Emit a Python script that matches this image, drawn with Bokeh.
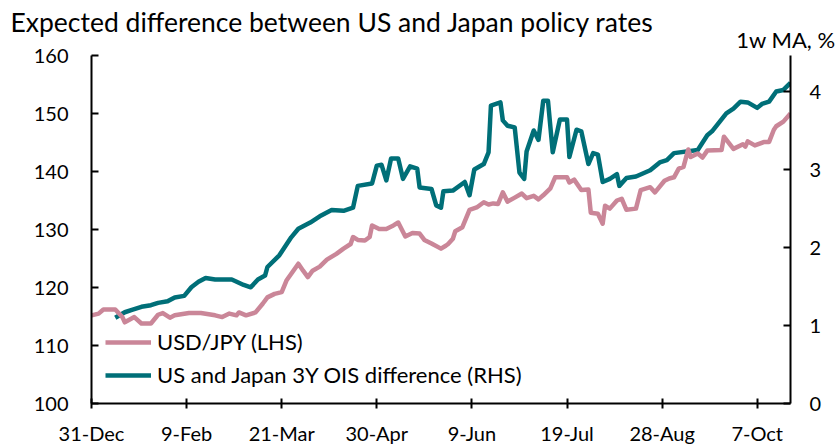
import pandas as pd
from bokeh.plotting import figure
from bokeh.models import (Range1d, LinearAxis, FixedTicker, CustomJSTickFormatter,
                          Legend, LegendItem, Title, ColumnDataSource)
from bokeh.embed import file_html
from bokeh.resources import INLINE

# ---------------- data ----------------
usdjpy_dates = [
    "2021-12-31", "2022-01-03", "2022-01-05", "2022-01-10", "2022-01-13", "2022-01-14",
    "2022-01-18", "2022-01-21", "2022-01-25", "2022-01-28", "2022-01-30", "2022-02-02",
    "2022-02-04", "2022-02-10", "2022-02-15", "2022-02-21", "2022-02-24", "2022-02-27",
    "2022-03-02", "2022-03-03", "2022-03-06", "2022-03-10", "2022-03-13", "2022-03-15",
    "2022-03-18", "2022-03-21", "2022-03-23", "2022-03-28", "2022-03-30", "2022-04-01",
    "2022-04-03", "2022-04-06", "2022-04-09", "2022-04-13", "2022-04-15", "2022-04-16",
    "2022-04-19", "2022-04-20", "2022-04-22", "2022-04-25", "2022-04-27", "2022-04-28",
    "2022-05-01", "2022-05-04", "2022-05-07", "2022-05-09", "2022-05-12", "2022-05-15",
    "2022-05-18", "2022-05-20", "2022-05-23", "2022-05-27", "2022-05-29", "2022-05-30",
    "2022-06-01", "2022-06-02", "2022-06-05", "2022-06-08", "2022-06-11", "2022-06-14",
    "2022-06-16", "2022-06-18", "2022-06-20", "2022-06-22", "2022-06-24", "2022-06-27",
    "2022-06-30", "2022-07-02", "2022-07-05", "2022-07-07", "2022-07-09", "2022-07-12",
    "2022-07-14", "2022-07-19", "2022-07-20", "2022-07-22", "2022-07-25", "2022-07-28",
    "2022-07-29", "2022-08-01", "2022-08-03", "2022-08-04", "2022-08-06", "2022-08-09",
    "2022-08-11", "2022-08-13", "2022-08-17", "2022-08-19", "2022-08-23", "2022-08-25",
    "2022-08-29", "2022-08-31", "2022-09-02", "2022-09-04", "2022-09-06", "2022-09-08",
    "2022-09-09", "2022-09-12", "2022-09-14", "2022-09-16", "2022-09-22", "2022-09-23",
    "2022-09-27", "2022-10-01", "2022-10-02", "2022-10-03", "2022-10-06", "2022-10-10",
    "2022-10-12", "2022-10-14", "2022-10-15", "2022-10-18", "2022-10-21",
]
usdjpy_values = [
    115.2, 115.5, 116.2, 116.2, 114.9, 114.0,
    114.9, 113.8, 113.8, 115.3, 115.6, 114.8,
    115.2, 115.6, 115.6, 115.2, 114.9, 115.5,
    115.2, 115.7, 115.2, 115.7, 117.2, 118.3,
    118.9, 119.2, 121.2, 124.1, 122.9, 121.8,
    122.9, 123.6, 124.8, 125.8, 126.4, 126.7,
    127.5, 128.7, 128.2, 128.1, 128.7, 130.7,
    130.1, 130.1, 130.7, 131.2, 128.8, 129.4,
    129.3, 128.2, 127.6, 126.7, 127.2, 127.5,
    128.4, 129.7, 130.4, 133.4, 133.8, 134.7,
    134.3, 134.5, 134.4, 136.4, 134.8, 135.5,
    136.2, 135.4, 135.8, 135.2, 135.9, 137.1,
    139.0, 139.0, 138.1, 138.6, 136.8, 136.9,
    132.9, 132.7, 131.0, 134.1, 133.6, 135.0,
    135.3, 133.4, 133.6, 136.8, 137.3, 136.4,
    138.4, 138.8, 139.0, 140.5, 140.8, 143.8,
    142.5, 143.1, 142.4, 143.6, 143.7, 146.0,
    143.9, 144.7, 144.3, 145.2, 144.5, 145.1,
    145.1, 147.2, 147.8, 148.6, 150.0,
]

ois_dates = [
    "2022-01-10", "2022-01-14", "2022-01-17", "2022-01-21", "2022-01-25", "2022-01-28",
    "2022-02-01", "2022-02-04", "2022-02-08", "2022-02-11", "2022-02-14", "2022-02-17",
    "2022-02-21", "2022-02-28", "2022-03-05", "2022-03-08", "2022-03-11", "2022-03-14",
    "2022-03-15", "2022-03-20", "2022-03-25", "2022-03-28", "2022-04-02", "2022-04-06",
    "2022-04-11", "2022-04-16", "2022-04-20", "2022-04-22", "2022-04-28", "2022-04-30",
    "2022-05-02", "2022-05-04", "2022-05-06", "2022-05-09", "2022-05-11", "2022-05-14",
    "2022-05-17", "2022-05-18", "2022-05-23", "2022-05-25", "2022-05-27", "2022-05-28",
    "2022-06-01", "2022-06-06", "2022-06-08", "2022-06-10", "2022-06-14", "2022-06-16",
    "2022-06-17", "2022-06-21", "2022-06-22", "2022-06-24", "2022-06-27", "2022-06-29",
    "2022-07-01", "2022-07-02", "2022-07-05", "2022-07-07", "2022-07-09", "2022-07-11",
    "2022-07-13", "2022-07-16", "2022-07-19", "2022-07-20", "2022-07-23", "2022-07-25",
    "2022-07-28", "2022-07-30", "2022-08-01", "2022-08-03", "2022-08-06", "2022-08-09",
    "2022-08-10", "2022-08-13", "2022-08-17", "2022-08-23", "2022-08-27", "2022-08-30",
    "2022-09-02", "2022-09-12", "2022-09-16", "2022-09-18", "2022-09-24", "2022-09-27",
    "2022-09-30", "2022-10-03", "2022-10-07", "2022-10-09", "2022-10-12", "2022-10-15",
    "2022-10-18", "2022-10-21",
]
ois_values = [
    1.10, 1.17, 1.20, 1.24, 1.26, 1.29,
    1.31, 1.36, 1.38, 1.49, 1.56, 1.61,
    1.59, 1.59, 1.52, 1.49, 1.59, 1.64,
    1.75, 1.90, 2.13, 2.24, 2.32, 2.40,
    2.48, 2.47, 2.51, 2.79, 2.82, 3.05,
    3.06, 2.86, 3.14, 3.14, 2.88, 3.04,
    3.01, 2.77, 2.75, 2.54, 2.51, 2.72,
    2.73, 2.84, 2.67, 3.00, 3.07, 3.22,
    3.82, 3.86, 3.63, 3.56, 3.54, 2.96,
    2.88, 3.23, 3.50, 3.38, 3.88, 3.88,
    3.22, 3.64, 3.64, 3.16, 3.51, 3.49,
    3.07, 3.21, 3.19, 2.84, 2.88, 2.94,
    2.79, 2.89, 2.91, 2.99, 3.09, 3.12,
    3.21, 3.25, 3.44, 3.49, 3.72, 3.78,
    3.87, 3.86, 3.79, 3.84, 3.87, 4.00,
    4.02, 4.11,
]

x_tick_dates = ["2021-12-31", "2022-02-09", "2022-03-21", "2022-04-30",
                "2022-06-09", "2022-07-19", "2022-08-28", "2022-10-07"]
lhs_ticks = [100, 110, 120, 130, 140, 150, 160]
rhs_ticks = [0, 1, 2, 3, 4]

title_text = "Expected difference between US and Japan policy rates"
rhs_unit = "1w MA, %"
label_usdjpy = "USD/JPY (LHS)"
label_ois = "US and Japan 3Y OIS difference (RHS)"

PINK = "#CA8698"
TEAL = "#006F78"
FONT = "Lato"

# ---------------- figure ----------------
x_start = pd.Timestamp("2021-12-31")
x_end = pd.Timestamp("2022-10-21")

p = figure(x_axis_type="datetime",
           frame_width=699, frame_height=348,
           min_border_left=91, min_border_right=49,
           min_border_top=55, min_border_bottom=30,
           x_range=Range1d(x_start, x_end), y_range=Range1d(100, 160),
           output_backend="svg", toolbar_location=None)
p.extra_y_ranges = {"rhs": Range1d(0, 348 / 78)}
p.outline_line_color = None
p.xgrid.visible = False
p.ygrid.visible = False
p.background_fill_color = "white"
p.border_fill_color = "white"

src_pink = ColumnDataSource(dict(x=pd.to_datetime(usdjpy_dates), y=usdjpy_values))
src_teal = ColumnDataSource(dict(x=pd.to_datetime(ois_dates), y=ois_values))

r_teal = p.line("x", "y", source=src_teal, color=TEAL, line_width=4.5,
                line_join="round", y_range_name="rhs")
r_pink = p.line("x", "y", source=src_pink, color=PINK, line_width=4.5,
                line_join="round")

# x axis
xa = p.xaxis[0]
xa.ticker = FixedTicker(ticks=[pd.Timestamp(d).value / 1e6 for d in x_tick_dates])
xa.formatter = CustomJSTickFormatter(code="""
const m = ['Jan','Feb','Mar','Apr','May','Jun','Jul','Aug','Sep','Oct','Nov','Dec'];
const d = new Date(tick);
return d.getUTCDate() + '-' + m[d.getUTCMonth()];
""")
xa.minor_tick_line_color = None
xa.major_tick_in = 5
xa.major_tick_out = 5
xa.major_label_standoff = 12

# left axis
ya = p.yaxis[0]
ya.ticker = FixedTicker(ticks=lhs_ticks)
ya.minor_tick_line_color = None
ya.major_tick_in = 7
ya.major_tick_out = 0
ya.major_label_standoff = 23

# right axis
ra = LinearAxis(y_range_name="rhs", ticker=FixedTicker(ticks=rhs_ticks))
ra.minor_tick_line_color = None
ra.major_tick_in = 7
ra.major_tick_out = 0
ra.major_label_standoff = 19
p.add_layout(ra, "right")

for ax in (xa, ya, ra):
    ax.axis_line_color = "black"
    ax.axis_line_width = 2
    ax.major_tick_line_color = "black"
    ax.major_tick_line_width = 2
    ax.major_label_text_font = FONT
    ax.major_label_text_font_size = "20px"
    ax.major_label_text_color = "black"

# main title (outermost panel); negative standoff lets it sit close to the unit label
p.title.text = title_text
p.title.align = "left"
p.title.offset = -81
p.title.standoff = -32
p.title.text_font = FONT
p.title.text_font_size = "26.5px"
p.title.text_font_style = "normal"
p.title.text_color = "black"

# right-axis unit label, just above the frame, centred over the right axis
unit = Title(text=rhs_unit, align="right", offset=-45, standoff=5,
             text_font=FONT, text_font_size="22px", text_font_style="normal",
             text_color="black")
p.add_layout(unit, "above")

# legend
legend = Legend(items=[LegendItem(label=label_usdjpy, renderers=[r_pink]),
                       LegendItem(label=label_ois, renderers=[r_teal])],
                location=(14, 15), orientation="vertical")
legend.background_fill_alpha = 0
legend.border_line_alpha = 0
legend.padding = 0
legend.margin = 0
legend.spacing = 6
legend.glyph_width = 46
legend.glyph_height = 24
legend.label_height = 24
legend.label_standoff = 6
legend.label_text_font = FONT
legend.label_text_font_size = "22px"
legend.label_text_color = "black"
p.add_layout(legend)

open("out.html", "w").write(file_html(p, INLINE))
